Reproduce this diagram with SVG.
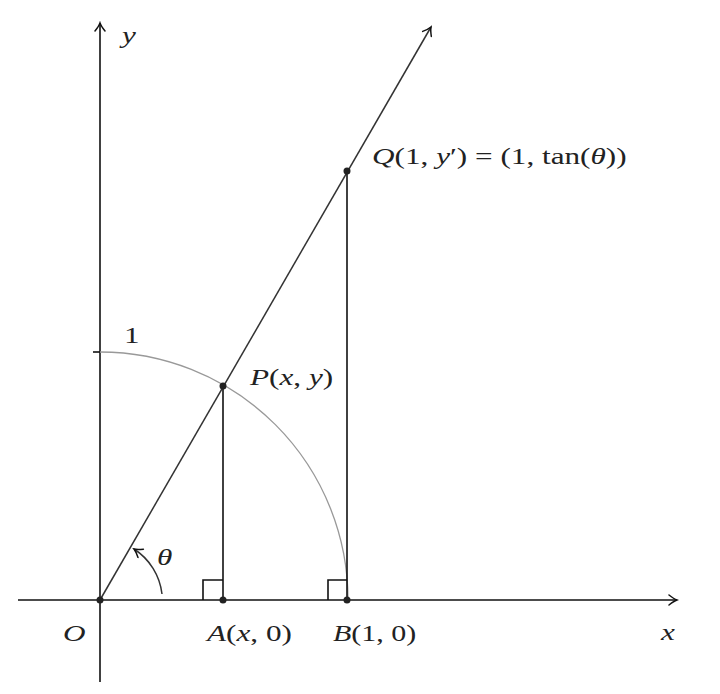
<svg xmlns="http://www.w3.org/2000/svg" width="720" height="694" viewBox="0 0 720 694">
<defs>
<style>
.ax{stroke:#111;stroke-width:1.6;fill:none}
.ln{stroke:#333;stroke-width:1.5;fill:none}
.arc{stroke:#999;stroke-width:1.3;fill:none}
.t{font-family:"Liberation Serif",serif;font-size:24px;fill:#222}
.i{font-style:italic}
.dot{fill:#222}
</style>
<marker id="ah" viewBox="-10 -6 12 12" markerWidth="12" markerHeight="12" refX="0" refY="0" orient="auto" markerUnits="userSpaceOnUse">
<path d="M-8,-5 Q-3,-1 0,0 Q-3,1 -8,5" fill="none" stroke="#111" stroke-width="1.5" stroke-linecap="round"/>
</marker>
</defs>
<rect width="720" height="694" fill="#fff"/>
<g id="connectors">
<line class="ax" x1="18" y1="600" x2="677" y2="600" marker-end="url(#ah)"/>
<line class="ax" x1="100" y1="682" x2="100" y2="23" marker-end="url(#ah)"/>
<line class="ax" x1="93" y1="352" x2="100" y2="352"/>
<path class="arc" d="M100,352 A248,248 0 0 1 348,600"/>
<line class="ln" x1="100" y1="600" x2="431" y2="27" marker-end="url(#ah)"/>
<line class="ax" x1="223" y1="386" x2="223" y2="600"/>
<line class="ax" x1="347" y1="171" x2="347" y2="600"/>
<path class="ax" d="M203,600 V580 H223"/>
<path class="ax" d="M328,600 V580 H347"/>
<path class="ln" d="M162,594 A62,62 0 0 0 134,549" marker-end="url(#ah)"/>
</g>
<g id="O"><circle class="dot" cx="100" cy="600" r="3.5"/><text class="t i" transform="translate(63,641) scale(1.3,1)">O</text></g>
<g id="A"><circle class="dot" cx="223" cy="600" r="3.5"/><text class="t" transform="translate(207,641) scale(1.3,1)"><tspan class="i">A</tspan>(<tspan class="i">x</tspan>, 0)</text></g>
<g id="B"><circle class="dot" cx="347" cy="600" r="3.5"/><text class="t" transform="translate(333,641) scale(1.25,1)"><tspan class="i">B</tspan>(1, 0)</text></g>
<g id="P"><circle class="dot" cx="223" cy="386" r="3.5"/><text class="t" transform="translate(250,385) scale(1.3,1)"><tspan class="i">P</tspan>(<tspan class="i">x</tspan>, <tspan class="i">y</tspan>)</text></g>
<g id="Q"><circle class="dot" cx="347" cy="171" r="3.5"/><text class="t" transform="translate(372,164) scale(1.3,1)"><tspan class="i">Q</tspan>(1, <tspan class="i">y</tspan>′) = (1, tan(<tspan class="i">θ</tspan>))</text></g>
<g id="labels">
<text class="t i" transform="translate(661,640) scale(1.3,1)">x</text>
<text class="t i" transform="translate(122,43) scale(1.3,1)">y</text>
<text class="t" transform="translate(124,343) scale(1.3,1)">1</text>
<text class="t i" transform="translate(157,565) scale(1.3,1)">θ</text>
</g>
</svg>
